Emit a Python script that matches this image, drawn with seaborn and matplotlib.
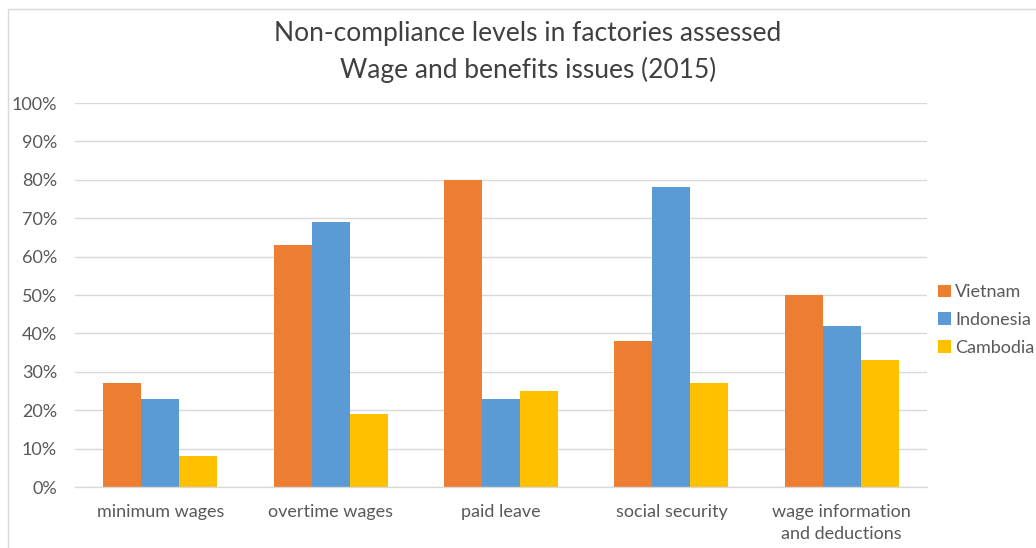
import matplotlib
matplotlib.use("Agg")
import matplotlib.pyplot as plt
import seaborn as sns
import pandas as pd
from matplotlib.patches import Rectangle, Patch

categories = ["minimum wages", "overtime wages", "paid leave", "social security",
              "wage information\nand deductions"]
vietnam = [27, 63, 80, 38, 50]
indonesia = [23, 69, 23, 78, 42]
cambodia = [8, 19, 25, 27, 33]
countries = ["Vietnam", "Indonesia", "Cambodia"]
colors = ["#ED7D31", "#5B9BD5", "#FFC000"]
yticks = list(range(0, 101, 10))

rows = []
for name, vals in zip(countries, [vietnam, indonesia, cambodia]):
    for c, v in zip(categories, vals):
        rows.append({"category": c, "country": name, "value": v})
df = pd.DataFrame(rows)

sns.set_theme(style="white")
plt.rcParams['font.family'] = ['Lato', 'DejaVu Sans']

fig = plt.figure(figsize=(10.36, 5.48), dpi=100)
W, H = 1036, 548
ax = fig.add_axes([75 / W, 1 - 487 / H, (927 - 75) / W, (487 - 103) / H])

sns.barplot(data=df, x="category", y="value", hue="country", palette=colors,
            width=0.67, gap=0, linewidth=0, saturation=1, ax=ax, legend=False)

ax.set_ylim(0, 100)
ax.set_xlim(-0.5, len(categories) - 0.5)
ax.set_yticks(yticks)
ax.set_yticklabels([f"{t}%" for t in yticks])
ax.yaxis.grid(True, color="#D9D9D9", linewidth=1)
ax.set_axisbelow(True)
for s in ["top", "right", "left"]:
    ax.spines[s].set_visible(False)
ax.spines["bottom"].set_color("#D9D9D9")
ax.spines["bottom"].set_linewidth(1)
ax.tick_params(axis="y", length=0, pad=13, labelsize=13, labelcolor="#595959")
ax.tick_params(axis="x", length=0, pad=12, labelsize=13, labelcolor="#595959")
for lab in ax.get_xticklabels():
    lab.set_linespacing(1.45)
ax.set_xlabel("")
ax.set_ylabel("")

fig.text(528 / W, 1 - 33 / H, "Non-compliance levels in factories assessed",
         ha="center", va="center", fontsize=19, color="#404040")
fig.text(528 / W, 1 - 70 / H, "Wage and benefits issues (2015)",
         ha="center", va="center", fontsize=19, color="#404040")

handles = [Patch(facecolor=c, edgecolor="none") for c in colors]
leg = fig.legend(handles, countries, loc="center left",
                 bbox_to_anchor=(938 / W, 1 - 320 / H), frameon=False,
                 fontsize=13, handlelength=0.7, handleheight=0.7,
                 handletextpad=0.25, labelspacing=0.65, borderaxespad=0,
                 borderpad=0)
for t in leg.get_texts():
    t.set_color("#595959")

fig.patches.append(Rectangle((8 / W, -0.1), 1.2, 1 - 9 / H + 0.1,
                             transform=fig.transFigure, fill=False,
                             edgecolor="#D9D9D9", linewidth=1))

fig.savefig("out.png", dpi=100)
